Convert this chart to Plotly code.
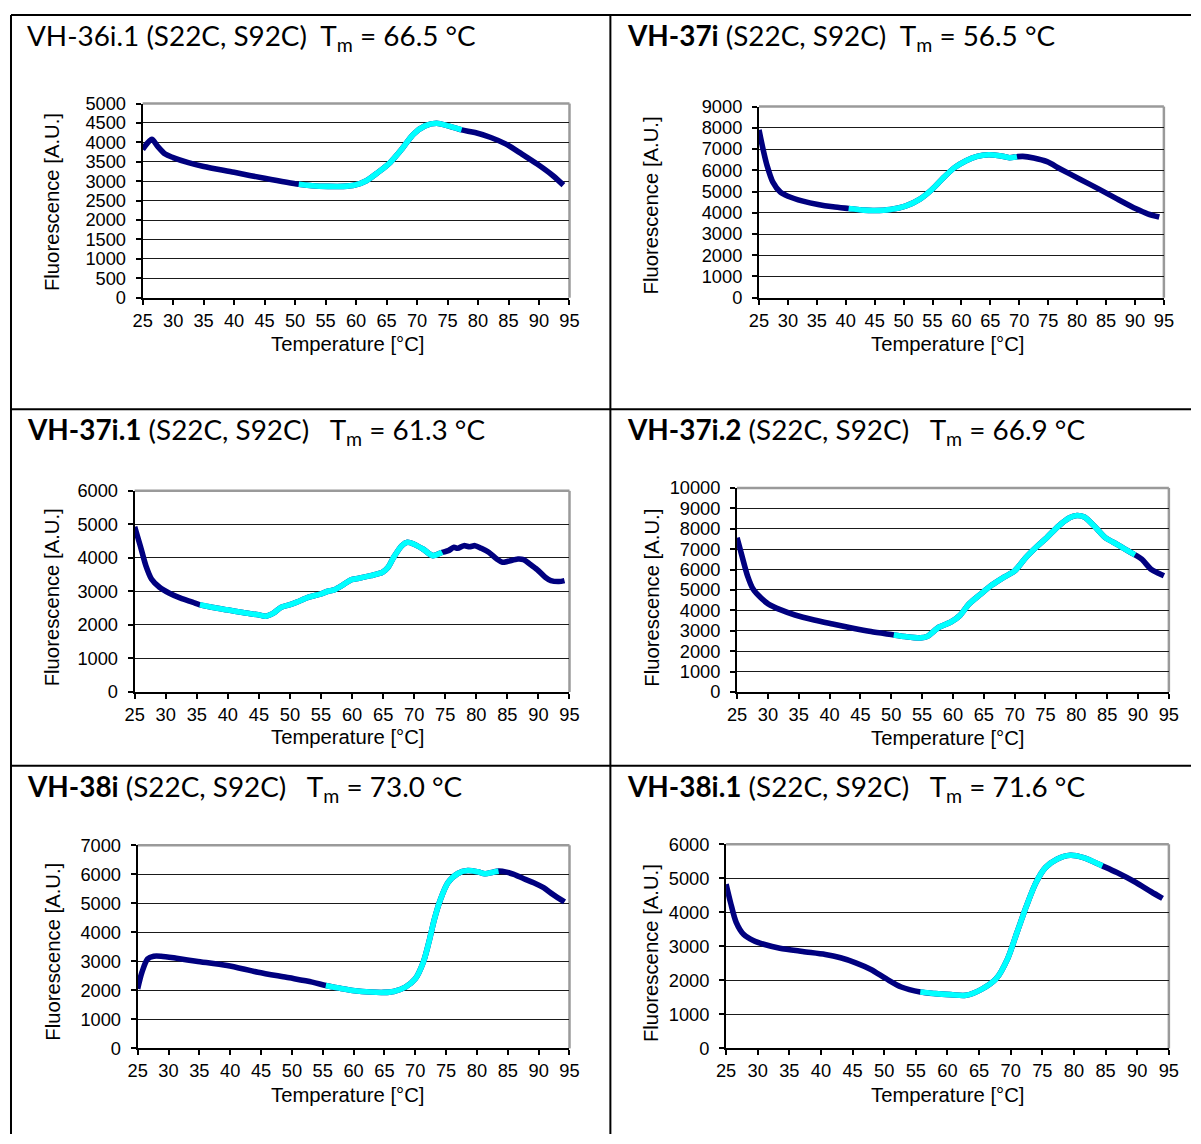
import plotly.graph_objects as go

# The photographed page shows the figure offset by the body margin (8 px) and
# very slightly reduced; positions below are page pixels of the reference and
# are mapped back to figure pixels.
W, H = 1201, 1144
OFF = 8
SC = 0.986
NAVY = "#00007f"
CYAN = "#00ffff"

# ---------------- data ----------------
titles = [
    "VH-36i.1 (S22C, S92C)\u00a0\u00a0T<sub>m</sub> = 66.5 °C",
    "<b>VH-37i</b> (S22C, S92C)\u00a0\u00a0T<sub>m</sub> = 56.5 °C",
    "<b>VH-37i.1</b> (S22C, S92C)\u00a0\u00a0\u00a0T<sub>m</sub> = 61.3 °C",
    "<b>VH-37i.2</b> (S22C, S92C)\u00a0\u00a0\u00a0T<sub>m</sub> = 66.9 °C",
    "<b>VH-38i</b> (S22C, S92C)\u00a0\u00a0\u00a0T<sub>m</sub> = 73.0 °C",
    "<b>VH-38i.1</b> (S22C, S92C)\u00a0\u00a0\u00a0T<sub>m</sub> = 71.6 °C",
]

t1 = [25, 26.5, 27.4, 28.7, 30, 32.5, 35, 40, 45, 50.6, 52.8, 55.4, 57.9, 59.8, 61.7, 63.6, 65.6,
      67.5, 69.4, 71.3, 73.2, 75.1, 77.3, 79.5, 82.1, 84.6, 87.2, 89.7, 92.3, 94]
f1 = [3820, 4080, 3910, 3700, 3610, 3480, 3380, 3230, 3075, 2920, 2885, 2868, 2868, 2902, 3014, 3228, 3485,
      3827, 4212, 4426, 4495, 4426, 4323, 4255, 4127, 3955, 3699, 3442, 3142, 2900]
fit1 = (50.6, 77.3)

t2 = [25, 25.7, 26.4, 27.4, 28.7, 30, 32.6, 35.2, 37.8, 40.5, 43.1, 45, 47.7, 50.3, 52.9, 54.9, 56.8,
      58.8, 60.8, 62.7, 64.7, 66.6, 68.3, 69.6, 70.6, 72.5, 74.8, 77.1, 80.4, 83.7, 86.9, 90.2, 92.2, 94.2]
f2 = [7900, 7000, 6220, 5440, 4970, 4780, 4550, 4390, 4280, 4200, 4125, 4110, 4156, 4313, 4656, 5094, 5625,
      6125, 6453, 6656, 6734, 6688, 6594, 6640, 6656, 6578, 6406, 6063, 5594, 5125, 4656, 4188, 3953, 3800]
fit2 = (40.5, 69.6)

t3 = [25, 25.9, 26.8, 27.7, 29, 30.6, 32.4, 34.3, 35.5, 37.4, 39.9, 42.4, 44.9, 46.1, 47.4, 48.6, 49.9,
      51.1, 53, 54.9, 56.1, 57.1, 58.6, 59.9, 61.1, 63, 64.9, 65.8, 66.7, 68, 68.9, 69.9, 71.4, 73, 74.5,
      75.5, 76.4, 77, 78, 78.9, 79.8, 80.8, 82, 83.3, 84.2, 85.1, 86.7, 87.6, 88.6, 89.8, 91.1, 92, 93.3, 94.2]
f3 = [4930, 4365, 3770, 3373, 3125, 2946, 2798, 2679, 2600, 2530, 2450, 2371, 2302, 2262, 2361, 2530, 2599,
      2679, 2827, 2917, 3006, 3046, 3204, 3353, 3393, 3472, 3571, 3720, 4018, 4365, 4464, 4415, 4266, 4068, 4167,
      4216, 4315, 4286, 4365, 4335, 4365, 4286, 4167, 3968, 3869, 3899, 3968, 3948, 3819, 3651, 3423, 3323, 3294, 3323]
fit3 = (35.5, 74.5)

t4 = [25, 25.8, 26.7, 27.6, 28.9, 30.1, 32, 34.4, 37.5, 40.5, 43.6, 46.7, 50.4, 52.2, 54.7, 55.9, 57.7,
      59.6, 61.1, 62.6, 64.5, 66.3, 68.2, 70, 71.8, 73.7, 75.2, 77.1, 78.9, 80.1, 81.3, 82.9, 84.7, 86.6,
      88.1, 89.5, 90.6, 92.1, 93.3, 94.2]
f4 = [7560, 6667, 5691, 5041, 4602, 4309, 4033, 3772, 3528, 3333, 3138, 2959, 2797, 2715, 2650, 2732, 3171,
      3415, 3740, 4309, 4797, 5236, 5610, 5935, 6585, 7154, 7561, 8130, 8537, 8650, 8569, 8130, 7561, 7236,
      6959, 6720, 6504, 6016, 5821, 5691]
fit4 = (50.4, 89.5)

t5 = [25, 25.7, 26.6, 27.6, 28.8, 31.3, 34.5, 39.5, 44.5, 49.6, 53.3, 55.5, 57.7, 60.2, 62.7, 64.9, 66.5,
      68.4, 70, 71.3, 72.2, 73.1, 74.1, 75.3, 76.9, 78.5, 80.1, 81.3, 82.6, 83.5, 84.8, 86, 87.6, 89.2,
      90.8, 92.3, 94.2]
f5 = [2055, 2626, 3083, 3175, 3175, 3106, 3003, 2855, 2626, 2432, 2284, 2170, 2078, 1987, 1941, 1930, 1964,
      2113, 2398, 2969, 3654, 4454, 5139, 5710, 6029, 6132, 6087, 6018, 6075, 6109, 6075, 5995, 5847, 5710,
      5538, 5310, 5047]
fit5 = (55.5, 83.5)

t6 = [25, 25.7, 26.6, 27.8, 29.3, 31.1, 33.5, 37.1, 40.7, 43.1, 45.5, 47.9, 50.3, 52.7, 55.7, 58.1, 60.5,
      62.9, 65.3, 67.7, 69.5, 71, 72.5, 74, 75.5, 77.3, 79.4, 81.5, 84.5, 86.8, 89.8, 92.2, 94]
f6 = [4829, 4293, 3707, 3346, 3171, 3054, 2946, 2849, 2761, 2663, 2517, 2322, 2049, 1805, 1659, 1610, 1580,
      1561, 1727, 2049, 2634, 3415, 4195, 4878, 5317, 5561, 5678, 5610, 5366, 5171, 4878, 4605, 4410]
fit6 = (55.7, 84.5)

temps = [t1, t2, t3, t4, t5, t6]
fluor = [f1, f2, f3, f4, f5, f6]
fits = [fit1, fit2, fit3, fit4, fit5, fit6]
ymax = [5000, 9000, 6000, 10000, 7000, 6000]
ydtick = [500, 1000, 1000, 1000, 1000, 1000]
x_ticks = list(range(25, 100, 5))

# ---------------- layout geometry (page pixels) ----------------
plot_px = [  # x0, x1, ytop, ybottom
    (141, 569, 101, 296),
    (759, 1165, 104, 296),
    (133, 569, 490, 692),
    (737, 1170, 487, 692),
    (136, 569, 846, 1050),
    (726, 1170, 845, 1050),
]
title_px = [(23, 34), (625, 34), (23, 430), (625, 430), (23, 788), (625, 788)]
ytitle_px = [(50, 200), (651, 203), (51, 597), (652, 597), (51, 953), (651, 954)]
xtitle_px = [(346, 342), (948, 342), (346, 737), (948, 738), (346, 1097), (948, 1097)]


def px(x):
    return min(max((x - OFF) / SC / W, 0), 1)


def py(y):
    return min(max(1 - (y - OFF) / SC / H, 0), 1)


def s(v):
    return v / SC


fig = go.Figure()
annotations = []
shapes = []

for i in range(6):
    n = "" if i == 0 else str(i + 1)
    xa, ya = "x" + n, "y" + n
    T, F = temps[i], fluor[i]
    lo, hi = fits[i]
    fig.add_trace(go.Scatter(x=T, y=F, mode="lines", xaxis=xa, yaxis=ya,
                             line=dict(color=NAVY, width=s(5.5), shape="spline", smoothing=0.8),
                             showlegend=False, hoverinfo="skip"))
    tc = [t for t in T if lo <= t <= hi]
    fc = [f for t, f in zip(T, F) if lo <= t <= hi]
    fig.add_trace(go.Scatter(x=tc, y=fc, mode="lines", xaxis=xa, yaxis=ya,
                             line=dict(color=CYAN, width=s(5.5), shape="spline", smoothing=0.8),
                             showlegend=False, hoverinfo="skip"))
    x0, x1, yt, yb = plot_px[i]
    fig.layout["xaxis" + n] = dict(
        domain=[px(x0), px(x1)], range=[25, 95], anchor=ya, tickvals=x_ticks,
        showgrid=False, zeroline=False, showline=True, linecolor="black", linewidth=2,
        ticks="outside", ticklen=5, tickwidth=1.5, tickcolor="black",
        tickfont=dict(family="Liberation Sans, Arial", size=s(18), color="black"),
        ticklabelstandoff=0, fixedrange=True)
    fig.layout["yaxis" + n] = dict(
        domain=[py(yb), py(yt)], range=[0, ymax[i]], anchor=xa, dtick=ydtick[i], tick0=0,
        tickformat="d",
        showgrid=True, gridcolor="#1a1a1a", gridwidth=1, zeroline=False,
        showline=True, linecolor="black", linewidth=2,
        ticks="outside", ticklen=5, tickwidth=1.5, tickcolor="black",
        tickfont=dict(family="Liberation Sans, Arial", size=s(18), color="black"),
        ticklabelstandoff=6, fixedrange=True)
    # grey plot-area frame (top and right)
    shapes.append(dict(type="line", xref="paper", yref="paper",
                       x0=px(x0), x1=px(x1), y0=py(yt), y1=py(yt),
                       line=dict(color="#9a9a9a", width=2.5), layer="below"))
    shapes.append(dict(type="line", xref="paper", yref="paper",
                       x0=px(x1), x1=px(x1), y0=py(yb), y1=py(yt),
                       line=dict(color="#9a9a9a", width=2.5), layer="below"))
    tx, ty = title_px[i]
    annotations.append(dict(text=titles[i], x=px(tx), y=py(ty), xref="paper", yref="paper",
                            xanchor="left", yanchor="middle", showarrow=False,
                            font=dict(family="Lato, Open Sans", size=s(27.5), color="black")))
    ax_, ay_ = ytitle_px[i]
    annotations.append(dict(text="Fluorescence [A.U.]", x=px(ax_), y=py(ay_), xref="paper", yref="paper",
                            xanchor="center", yanchor="middle", textangle=-90, showarrow=False,
                            font=dict(family="Liberation Sans, Arial", size=s(20), color="black")))
    bx, by = xtitle_px[i]
    annotations.append(dict(text="Temperature [°C]", x=px(bx), y=py(by), xref="paper", yref="paper",
                            xanchor="center", yanchor="middle", showarrow=False,
                            font=dict(family="Liberation Sans, Arial", size=s(20), color="black")))

# table borders
border = dict(color="black", width=2)
for (xa0, ya0, xa1, ya1) in [(9, 12, 1201, 12), (9, 12, 9, 1144), (610, 12, 610, 1144),
                             (9, 408, 1201, 408), (9, 766, 1201, 766)]:
    shapes.append(dict(type="line", xref="paper", yref="paper",
                       x0=px(xa0), x1=px(xa1), y0=py(ya0), y1=py(ya1), line=border))

fig.update_layout(width=W, height=H, margin=dict(l=0, r=0, t=0, b=0),
                  paper_bgcolor="white", plot_bgcolor="white",
                  annotations=annotations, shapes=shapes, showlegend=False)

fig.write_html("out.html", config={"displayModeBar": False})
